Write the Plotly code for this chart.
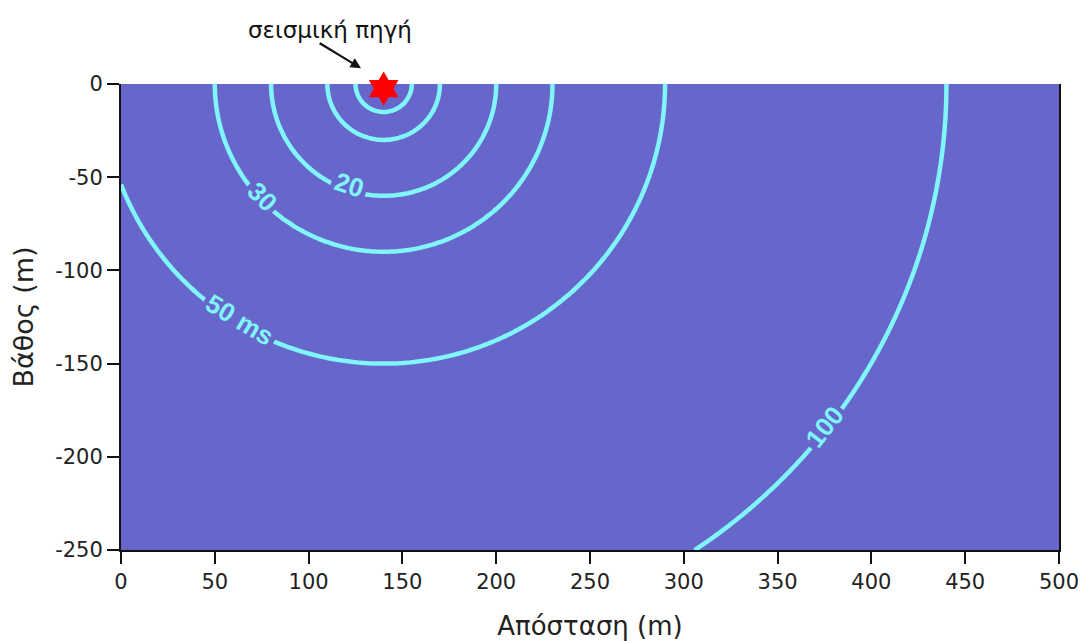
import numpy as np
import plotly.graph_objects as go

# --- data ---
source_x = 140.0          # source position along profile (m)
source_depth = 0.0        # source depth (m)
velocity_m_per_ms = 3.0   # 3000 m/s -> 3 m per ms
contour_levels = [5, 10, 20, 30, 50, 100]   # travel time (ms)

label_texts = ["20", "30", "50 ms", "100"]
label_x = [122, 75.5, 63.5, 375]
label_y = [-54, -60.5, -126.5, -184]
label_angle = [18, 46, 31, -52]

x_ticks = [0, 50, 100, 150, 200, 250, 300, 350, 400, 450, 500]
y_ticks = [0, -50, -100, -150, -200, -250]

BG = "#6666CB"
LINE = "#80F6FB"

xs = np.arange(0, 501, 2.0)
ys = np.arange(-250, 0.01, 2.0)
X, Y = np.meshgrid(xs, ys)
T = np.sqrt((X - source_x) ** 2 + (Y - source_depth) ** 2) / velocity_m_per_ms

fig = go.Figure()
for lv in contour_levels:
    fig.add_trace(go.Contour(
        x=xs, y=ys, z=T,
        contours=dict(start=lv, end=lv, size=1, coloring="none"),
        line=dict(color=LINE, width=4.5, smoothing=1),
        showscale=False, hoverinfo="skip",
    ))

fig.add_trace(go.Scatter(
    x=[source_x], y=[-2.5], mode="markers",
    marker=dict(symbol="hexagram", size=26, color="#FF0000", line=dict(width=0)),
    cliponaxis=False, showlegend=False, hoverinfo="skip",
))

for t, x, y, a in zip(label_texts, label_x, label_y, label_angle):
    fig.add_annotation(
        x=x, y=y, xref="x", yref="y", text=t, showarrow=False,
        textangle=a, bgcolor=BG, borderpad=3,
        font=dict(family="Liberation Sans, Arial", size=26, color=LINE, weight="bold"),
    )

fig.add_annotation(
    x=source_x, xref="x", y=1.116, yref="paper", text="σεισμική πηγή",
    showarrow=False, font=dict(family="DejaVu Sans", size=23, color="#111111"),
    xanchor="center", yanchor="middle", xshift=-54,
)
# arrow shaft (pointer from label to source) drawn as a shape in paper coordinates
fig.add_shape(
    type="line", xref="paper", yref="paper",
    x0=0.2122, y0=1.088, x1=0.2537, y1=1.036,
    line=dict(color="#111111", width=1.6),
)
# arrowhead
fig.add_annotation(
    x=0.2559, xref="paper", y=1.034, yref="paper", text="", showarrow=True,
    font=dict(size=1), borderpad=0, borderwidth=0, width=1, height=1,
    ax=-42, ay=-25, arrowhead=2, arrowsize=1.3, arrowwidth=1.6,
    arrowcolor="#111111", standoff=0, startstandoff=0,
)

fig.update_layout(
    width=1080, height=641,
    margin=dict(l=121, r=21, t=84, b=91),
    paper_bgcolor="white", plot_bgcolor=BG,
    showlegend=False,
    font=dict(family="DejaVu Sans", color="#222222"),
)
fig.update_xaxes(
    range=[0, 500], tickvals=x_ticks, ticktext=[str(v) for v in x_ticks],
    showgrid=False, zeroline=False, showline=True, linecolor="#111111", linewidth=2,
    ticks="outside", ticklen=12, tickwidth=2, tickcolor="#111111",
    tickfont=dict(size=21, family="DejaVu Sans"), automargin=False,
    title=dict(text="Απόσταση (m)", font=dict(size=26, family="DejaVu Sans"), standoff=26),
)
fig.update_yaxes(
    range=[-250, 0], tickvals=y_ticks, ticktext=[str(v) for v in y_ticks],
    showgrid=False, zeroline=False, showline=True, mirror=True, linecolor="#111111", linewidth=2,
    ticks="outside", ticklen=12, tickwidth=2, tickcolor="#111111",
    tickfont=dict(size=21, family="DejaVu Sans"), automargin=False,
    title=dict(text="Βάθος (m)", font=dict(size=27, family="DejaVu Sans"), standoff=14),
)

# remove the default page margin so the 1080x641 figure fills the window exactly
fig.write_html(
    "out.html",
    config={"displayModeBar": False},
    post_script="document.body.style.margin='0';document.body.style.overflow='hidden';",
)
